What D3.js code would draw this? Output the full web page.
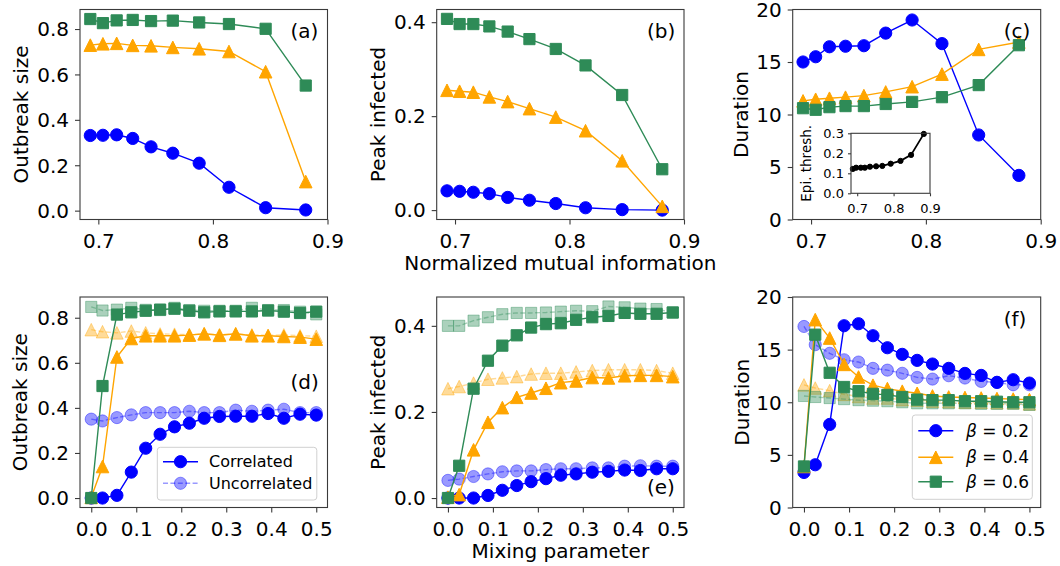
<!DOCTYPE html>
<html>
<head>
<meta charset="utf-8">
<script src="https://cdn.jsdelivr.net/npm/d3@7"></script>
<style>
  body { margin: 0; background: #fff; }
  text { font-family: "DejaVu Sans", sans-serif; }
</style>
</head>
<body>
<div id="chart-area"></div>
<script>
// x values
const nmi = [0.693, 0.704, 0.716, 0.730, 0.746, 0.765, 0.788, 0.814, 0.846, 0.881]
const mixing = [0, 0.025, 0.057, 0.089, 0.121, 0.153, 0.185, 0.218, 0.251, 0.285, 0.321, 0.357, 0.393, 0.428, 0.464, 0.5]

// (a) outbreak size vs NMI
const sizeNmi02 = [0.331, 0.332, 0.334, 0.318, 0.281, 0.253, 0.209, 0.103, 0.013, 0.003]
const sizeNmi04 = [0.729, 0.735, 0.737, 0.728, 0.726, 0.719, 0.713, 0.701, 0.612, 0.128]
const sizeNmi06 = [0.844, 0.826, 0.838, 0.840, 0.835, 0.837, 0.829, 0.822, 0.801, 0.551]

// (b) peak infected vs NMI
const peakNmi02 = [0.041, 0.040, 0.038, 0.035, 0.027, 0.021, 0.014, 0.005, 0.001, 0.000]
const peakNmi04 = [0.255, 0.253, 0.251, 0.241, 0.231, 0.216, 0.198, 0.169, 0.105, 0.008]
const peakNmi06 = [0.407, 0.396, 0.396, 0.391, 0.380, 0.364, 0.343, 0.308, 0.245, 0.087]

// (c) duration vs NMI
const durNmi02 = [15.0, 15.5, 16.45, 16.5, 16.55, 17.75, 19.0, 16.75, 8.05, 4.2]
const durNmi04 = [11.3, 11.45, 11.55, 11.65, 11.8, 12.15, 12.65, 13.85, 16.2, 16.9]
const durNmi06 = [10.6, 10.45, 10.7, 10.8, 10.8, 11.0, 11.2, 11.65, 12.8, 16.6]

// (c) inset: epidemic threshold
const threshNmi = [0.688, 0.697, 0.710, 0.721, 0.735, 0.752, 0.769, 0.792, 0.819, 0.848, 0.883]
const threshVal = [0.122, 0.128, 0.128, 0.128, 0.133, 0.135, 0.137, 0.148, 0.162, 0.192, 0.297]

// (d) outbreak size vs mixing
const sizeCorr02 = [0.0, 0.0, 0.012, 0.115, 0.221, 0.283, 0.316, 0.332, 0.354, 0.362, 0.363, 0.363, 0.375, 0.354, 0.372, 0.368]
const sizeCorr04 = [0.003, 0.140, 0.626, 0.708, 0.720, 0.720, 0.720, 0.723, 0.729, 0.722, 0.729, 0.720, 0.720, 0.717, 0.714, 0.705]
const sizeCorr06 = [0.0, 0.497, 0.814, 0.824, 0.831, 0.836, 0.840, 0.831, 0.824, 0.828, 0.828, 0.828, 0.832, 0.827, 0.821, 0.827]
const sizeUnc02 = [0.350, 0.342, 0.357, 0.369, 0.379, 0.379, 0.379, 0.385, 0.379, 0.379, 0.390, 0.385, 0.390, 0.394, 0.379, 0.379]
const sizeUnc04 = [0.747, 0.738, 0.733, 0.741, 0.733, 0.728, 0.727, 0.725, 0.728, 0.725, 0.727, 0.724, 0.722, 0.724, 0.720, 0.718]
const sizeUnc06 = [0.848, 0.832, 0.836, 0.844, 0.835, 0.834, 0.844, 0.834, 0.831, 0.831, 0.831, 0.844, 0.834, 0.834, 0.827, 0.815]

// (e) peak infected vs mixing
const peakCorr02 = [0.0, 0.0, 0.0, 0.006, 0.018, 0.029, 0.038, 0.045, 0.053, 0.056, 0.060, 0.062, 0.065, 0.064, 0.068, 0.068]
const peakCorr04 = [0.002, 0.008, 0.112, 0.176, 0.210, 0.234, 0.244, 0.255, 0.268, 0.272, 0.280, 0.279, 0.284, 0.285, 0.285, 0.282]
const peakCorr06 = [0.0, 0.075, 0.254, 0.319, 0.354, 0.378, 0.396, 0.404, 0.406, 0.414, 0.420, 0.423, 0.430, 0.428, 0.428, 0.431]
const peakUnc02 = [0.041, 0.044, 0.050, 0.056, 0.061, 0.063, 0.063, 0.066, 0.068, 0.068, 0.070, 0.070, 0.074, 0.075, 0.074, 0.074]
const peakUnc04 = [0.254, 0.259, 0.267, 0.276, 0.279, 0.282, 0.288, 0.290, 0.290, 0.293, 0.296, 0.298, 0.298, 0.298, 0.296, 0.290]
const peakUnc06 = [0.400, 0.400, 0.412, 0.420, 0.427, 0.430, 0.430, 0.431, 0.433, 0.435, 0.434, 0.445, 0.443, 0.440, 0.439, 0.431]

// (f) duration vs mixing
const durCorr02 = [3.33, 4.06, 7.89, 17.27, 17.46, 16.32, 15.18, 14.55, 13.98, 13.63, 13.22, 12.74, 12.55, 11.89, 12.14, 11.82]
const durCorr04 = [3.9, 17.85, 16.1, 13.6, 12.4, 11.62, 11.3, 11.05, 10.85, 10.6, 10.5, 10.45, 10.4, 10.35, 10.3, 10.25]
const durCorr06 = [3.9, 16.42, 12.8, 11.45, 11.05, 10.8, 10.7, 10.5, 10.25, 10.2, 10.2, 10.1, 10.1, 10.05, 10.0, 10.0]
const durUnc02 = [17.2, 15.47, 14.65, 14.04, 13.82, 13.22, 13.05, 12.75, 12.36, 12.2, 12.52, 12.3, 11.98, 11.89, 11.66, 11.66]
const durUnc04 = [11.65, 11.35, 11.1, 10.75, 10.55, 10.4, 10.4, 10.25, 10.2, 10.1, 10.05, 10.0, 10.0, 9.95, 9.95, 9.85]
const durUnc06 = [10.6, 10.5, 10.4, 10.3, 10.2, 10.15, 10.1, 10.0, 9.9, 9.9, 9.9, 9.9, 9.85, 9.85, 9.85, 9.75]

const betaLabels = ["0.2", "0.4", "0.6"]
const typeLabels = ["Correlated", "Uncorrelated"]

const BLUE = "#0000ff", ORANGE = "#ffa500", GREEN = "#2e8b57"
const FADE = 0.4

const svg = d3.select("#chart-area").append("svg")
  .attr("width", 1060)
  .attr("height", 566)

const COLS = [{l: 80, r: 327.5}, {l: 436.7, r: 684}, {l: 792.7, r: 1040.7}]
const ROWS = [{t: 9.5, b: 219.5}, {t: 297, b: 507.5}]

function markerPath(shape, s) {
  const h = s / 2
  if (shape === "circle") return d3.symbol(d3.symbolCircle, Math.PI * h * h)()
  if (shape === "square") return `M${-h},${-h}H${h}V${h}H${-h}Z`
  return `M0,${-h}L${h},${h}L${-h},${h}Z`
}
const SIZE = {circle: 12.2, square: 11.2, triangle: 12.6}

function drawSeries(g, x, y, s) {
  const pts = s.xs.map((v, i) => [x(v), y(s.ys[i])])
  const alpha = s.faded ? FADE : 1
  g.append("path")
    .attr("d", d3.line()(pts))
    .attr("fill", "none")
    .attr("stroke", s.color)
    .attr("stroke-width", s.lw || 1.4)
    .attr("stroke-opacity", alpha)
    .attr("stroke-dasharray", s.faded ? "5,2.4" : null)
  g.selectAll(null).data(pts).enter().append("path")
    .attr("transform", d => `translate(${d[0]},${d[1]})`)
    .attr("d", markerPath(s.shape, s.size || SIZE[s.shape]))
    .attr("fill", s.color)
    .attr("fill-opacity", alpha)
    .attr("stroke", s.color)
    .attr("stroke-opacity", alpha)
    .attr("stroke-width", 1)
}

function panel(o) {
  const x = d3.scaleLinear().domain(o.xDomain).range([o.l, o.r])
  const y = d3.scaleLinear().domain(o.yDomain).range([o.b, o.t])
  const g = svg.append("g")
  const fs = o.fs || 20
  const tick = o.tick || 5

  if (o.bg) g.append("rect").attr("x", o.l).attr("y", o.t)
    .attr("width", o.r - o.l).attr("height", o.b - o.t).attr("fill", "#fff")

  o.series.forEach(s => drawSeries(g, x, y, s))

  g.append("rect")
    .attr("x", o.l).attr("y", o.t)
    .attr("width", o.r - o.l).attr("height", o.b - o.t)
    .attr("fill", "none").attr("stroke", "#3a3a3a").attr("stroke-width", 1.1)

  const xAxis = g.append("g")
    .attr("transform", `translate(0, ${o.b})`)
    .call(d3.axisBottom(x).tickValues(o.xTicks).tickFormat(d3.format(".1f"))
      .tickSize(tick).tickPadding(o.xPad || 9))
  const yAxis = g.append("g")
    .attr("transform", `translate(${o.l}, 0)`)
    .call(d3.axisLeft(y).tickValues(o.yTicks).tickFormat(d3.format(o.yFmt))
      .tickSize(tick).tickPadding(o.yPad || 6))
  ;[xAxis, yAxis].forEach(a => {
    a.select(".domain").remove()
    a.attr("font-size", fs).attr("font-family", "DejaVu Sans")
    a.selectAll("line").attr("stroke", "#3a3a3a").attr("stroke-width", 1.1)
    a.selectAll("text").attr("fill", "#000")
  })
  yAxis.selectAll("text").attr("dy", "0.34em")

  if (o.ylabel) {
    g.append("text")
      .attr("transform", `translate(${o.ylabelX}, ${(o.t + o.b) / 2}) rotate(-90)`)
      .attr("text-anchor", "middle")
      .attr("font-size", o.lfs || 20)
      .text(o.ylabel)
  }
  if (o.letter) {
    g.append("text")
      .attr("x", o.r - 37)
      .attr("y", o.letterY)
      .attr("font-size", 20)
      .text(o.letter)
  }
  return {x, y}
}

// Top row: NMI
panel({
  l: COLS[0].l, r: COLS[0].r, t: ROWS[0].t, b: ROWS[0].b,
  xDomain: [0.684, 0.9], yDomain: [-0.039, 0.886],
  xTicks: [0.7, 0.8, 0.9], yTicks: [0, 0.2, 0.4, 0.6, 0.8], yFmt: ".1f",
  ylabel: "Outbreak size", ylabelX: 27.5, letter: "(a)", letterY: ROWS[0].t + 28,
  series: [
    {xs: nmi, ys: sizeNmi02, color: BLUE, shape: "circle"},
    {xs: nmi, ys: sizeNmi04, color: ORANGE, shape: "triangle"},
    {xs: nmi, ys: sizeNmi06, color: GREEN, shape: "square"}
  ]
})
panel({
  l: COLS[1].l, r: COLS[1].r, t: ROWS[0].t, b: ROWS[0].b,
  xDomain: [0.684, 0.9], yDomain: [-0.020, 0.427],
  xTicks: [0.7, 0.8, 0.9], yTicks: [0, 0.2, 0.4], yFmt: ".1f",
  ylabel: "Peak infected", ylabelX: 385, letter: "(b)", letterY: ROWS[0].t + 28,
  series: [
    {xs: nmi, ys: peakNmi02, color: BLUE, shape: "circle"},
    {xs: nmi, ys: peakNmi04, color: ORANGE, shape: "triangle"},
    {xs: nmi, ys: peakNmi06, color: GREEN, shape: "square"}
  ]
})
panel({
  l: COLS[2].l, r: COLS[2].r, t: ROWS[0].t, b: ROWS[0].b,
  xDomain: [0.684, 0.9], yDomain: [0, 20],
  xTicks: [0.7, 0.8, 0.9], yTicks: [0, 5, 10, 15, 20], yFmt: "d",
  ylabel: "Duration", ylabelX: 748, letter: "(c)", letterY: ROWS[0].t + 28,
  series: [
    {xs: nmi, ys: durNmi02, color: BLUE, shape: "circle"},
    {xs: nmi, ys: durNmi04, color: ORANGE, shape: "triangle"},
    {xs: nmi, ys: durNmi06, color: GREEN, shape: "square"}
  ]
})
// inset of (c)
panel({
  l: 851, r: 930, t: 133.3, b: 193.3, bg: true,
  xDomain: [0.683, 0.9], yDomain: [0, 0.3],
  xTicks: [0.7, 0.8, 0.9], yTicks: [0, 0.1, 0.2, 0.3], yFmt: ".1f",
  fs: 13, lfs: 13.5, tick: 3, xPad: 7.5, yPad: 4,
  ylabel: "Epi. thresh.", ylabelX: 811,
  series: [
    {xs: threshNmi, ys: threshVal, color: "#000", shape: "circle", size: 5.2, lw: 1.8}
  ]
})

// Bottom row: mixing parameter
const mixTicks = [0, 0.1, 0.2, 0.3, 0.4, 0.5]
panel({
  l: COLS[0].l, r: COLS[0].r, t: ROWS[1].t, b: ROWS[1].b,
  xDomain: [-0.025, 0.525], yDomain: [-0.042, 0.892],
  xTicks: mixTicks, yTicks: [0, 0.2, 0.4, 0.6, 0.8], yFmt: ".1f",
  ylabel: "Outbreak size", ylabelX: 27, letter: "(d)", letterY: 389,
  series: [
    {xs: mixing, ys: sizeUnc02, color: BLUE, shape: "circle", faded: true},
    {xs: mixing, ys: sizeUnc04, color: ORANGE, shape: "triangle", faded: true},
    {xs: mixing, ys: sizeUnc06, color: GREEN, shape: "square", faded: true},
    {xs: mixing, ys: sizeCorr02, color: BLUE, shape: "circle"},
    {xs: mixing, ys: sizeCorr04, color: ORANGE, shape: "triangle"},
    {xs: mixing, ys: sizeCorr06, color: GREEN, shape: "square"}
  ]
})
panel({
  l: COLS[1].l, r: COLS[1].r, t: ROWS[1].t, b: ROWS[1].b,
  xDomain: [-0.025, 0.525], yDomain: [-0.022, 0.467],
  xTicks: mixTicks, yTicks: [0, 0.2, 0.4], yFmt: ".1f",
  ylabel: "Peak infected", ylabelX: 385, letter: "(e)", letterY: 494,
  series: [
    {xs: mixing, ys: peakUnc02, color: BLUE, shape: "circle", faded: true},
    {xs: mixing, ys: peakUnc04, color: ORANGE, shape: "triangle", faded: true},
    {xs: mixing, ys: peakUnc06, color: GREEN, shape: "square", faded: true},
    {xs: mixing, ys: peakCorr02, color: BLUE, shape: "circle"},
    {xs: mixing, ys: peakCorr04, color: ORANGE, shape: "triangle"},
    {xs: mixing, ys: peakCorr06, color: GREEN, shape: "square"}
  ]
})
panel({
  l: COLS[2].l, r: COLS[2].r, t: ROWS[1].t, b: ROWS[1].b,
  xDomain: [-0.025, 0.525], yDomain: [0, 20],
  xTicks: mixTicks, yTicks: [0, 5, 10, 15, 20], yFmt: "d",
  ylabel: "Duration", ylabelX: 749, letter: "(f)", letterY: 325.5,
  series: [
    {xs: mixing, ys: durUnc02, color: BLUE, shape: "circle", faded: true},
    {xs: mixing, ys: durUnc04, color: ORANGE, shape: "triangle", faded: true},
    {xs: mixing, ys: durUnc06, color: GREEN, shape: "square", faded: true},
    {xs: mixing, ys: durCorr02, color: BLUE, shape: "circle"},
    {xs: mixing, ys: durCorr04, color: ORANGE, shape: "triangle"},
    {xs: mixing, ys: durCorr06, color: GREEN, shape: "square"}
  ]
})

// x labels
svg.append("text")
  .attr("x", (COLS[1].l + COLS[1].r) / 2).attr("y", 270)
  .attr("text-anchor", "middle").attr("font-size", 20)
  .text("Normalized mutual information")
svg.append("text")
  .attr("x", (COLS[1].l + COLS[1].r) / 2).attr("y", 558)
  .attr("text-anchor", "middle").attr("font-size", 20)
  .text("Mixing parameter")

// Legends
function legendBox(x0, y0, w, h) {
  svg.append("rect")
    .attr("x", x0).attr("y", y0).attr("width", w).attr("height", h)
    .attr("rx", 3).attr("fill", "#fff").attr("fill-opacity", 0.8)
    .attr("stroke", "#d0d0d0").attr("stroke-width", 1)
}
function legendRow(x0, yc, s) {
  const g = svg.append("g")
  const alpha = s.faded ? FADE : 1
  g.append("line")
    .attr("x1", x0).attr("x2", x0 + 35).attr("y1", yc).attr("y2", yc)
    .attr("stroke", s.color).attr("stroke-width", 1.4)
    .attr("stroke-opacity", alpha)
    .attr("stroke-dasharray", s.faded ? "5,2.4" : null)
  g.append("path")
    .attr("transform", `translate(${x0 + 17.5},${yc})`)
    .attr("d", markerPath(s.shape, SIZE[s.shape]))
    .attr("fill", s.color).attr("fill-opacity", alpha)
    .attr("stroke", s.color).attr("stroke-opacity", alpha).attr("stroke-width", 1)
  return g
}

legendBox(157.3, 447.3, 159.5, 52.7)
legendRow(163, 461.7, {color: BLUE, shape: "circle"})
  .append("text").attr("x", 209).attr("y", 461.7).attr("dy", "0.35em")
  .attr("font-size", 16).text(typeLabels[0])
legendRow(163, 483.3, {color: BLUE, shape: "circle", faded: true})
  .append("text").attr("x", 209).attr("y", 483.3).attr("dy", "0.35em")
  .attr("font-size", 16).text(typeLabels[1])

legendBox(912.3, 415, 120, 84.3)
const betaRows = [
  {color: BLUE, shape: "circle", y: 430.7},
  {color: ORANGE, shape: "triangle", y: 457.3},
  {color: GREEN, shape: "square", y: 481.7}
]
betaRows.forEach((s, i) => {
  const t = legendRow(918.3, s.y, s)
    .append("text").attr("x", 966).attr("y", s.y).attr("dy", "0.35em")
    .attr("font-size", 17)
  t.append("tspan").attr("font-style", "italic").text("β")
  t.append("tspan").text(" = " + betaLabels[i])
})
</script>
</body>
</html>
